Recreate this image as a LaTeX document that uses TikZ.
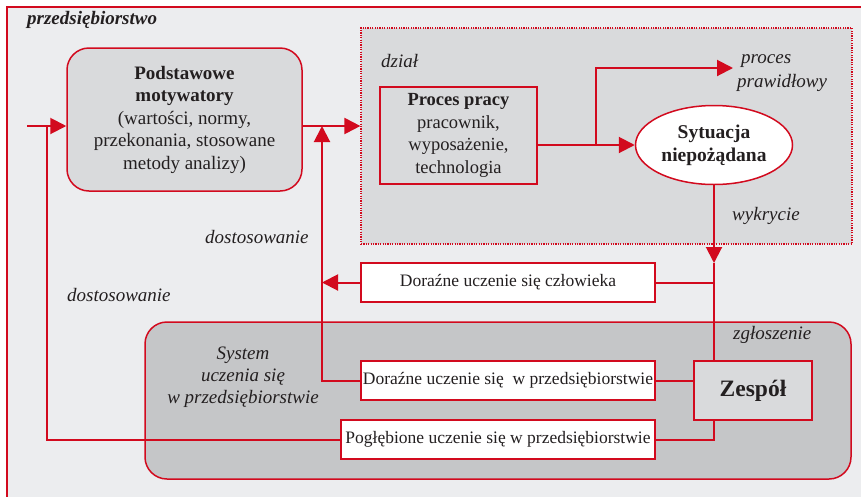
\documentclass[tikz,border=0pt]{standalone}
\usepackage{fontspec}
\setmainfont{Liberation Serif}
\usetikzlibrary{arrows.meta,shapes.geometric}
\definecolor{rd}{RGB}{210,10,30}
\definecolor{bgl}{RGB}{236,237,239}
\definecolor{gmid}{RGB}{217,218,220}
\definecolor{gdark}{RGB}{197,198,200}
\definecolor{txt}{RGB}{35,31,32}
\tikzset{
  boxline/.style={draw=rd, line width=1.5pt},
  conn/.style={draw=rd, line width=2pt},
  arr/.style={conn, -{Triangle[length=16pt,width=16pt]}},
  wbox/.style={boxline, fill=white, minimum width=294pt, minimum height=39pt, inner sep=0pt, text=txt, font=\fontsize{17.5}{22}\selectfont},
  lab/.style={text=txt, inner sep=0pt, font=\fontsize{19}{22}\selectfont\itshape},
}
\begin{document}
\begin{tikzpicture}[x=1pt,y=-1pt]
\useasboundingbox (0,0) rectangle (861,496);
\clip (0,0) rectangle (861,496);
\fill[white] (0,0) rectangle (861,496);
\draw[boxline, fill=bgl] (7,7) rectangle (880,520);
\node[lab, anchor=west, font=\fontsize{19}{22}\selectfont\bfseries\itshape] (firm) at (27,20) {przedsiębiorstwo};
% dzial region
\node[draw=rd, line width=1.2pt, dash pattern=on 1.2pt off 1.2pt, fill=gmid, minimum width=491pt, minimum height=216pt, inner sep=0pt] (dz) at (606.5,136) {};
\node[lab, anchor=west] (dzl) at (381,61) {dział};
% system region
\node[boxline, fill=gdark, rounded corners=22pt, minimum width=706pt, minimum height=157pt, inner sep=0pt] (sys) at (498,400.5) {};
\node[lab, align=center] (sysl) at (243,377) {System\\uczenia się\\w przedsiębiorstwie};
% main boxes
\node[boxline, fill=gmid, rounded corners=22pt, minimum width=235pt, minimum height=143pt, inner sep=0pt, align=center, text=txt, font=\fontsize{19}{22.5}\selectfont] (pod) at (184.5,119.5)
  {\textbf{Podstawowe}\\\textbf{motywatory}\\(wartości, normy,\\przekonania, stosowane\\metody analizy)};
\node[boxline, fill=gmid, minimum width=157pt, minimum height=97pt, inner sep=0pt, align=center, text=txt, font=\fontsize{18.5}{22.5}\selectfont] (proc) at (458.5,135.5)
  {\textbf{Proces pracy}\\pracownik,\\wyposażenie,\\technologia};
\node[boxline, ellipse, fill=white, minimum width=157pt, minimum height=79pt, inner sep=0pt, align=center, text=txt, font=\fontsize{19.5}{23}\selectfont\bfseries] (syt) at (714,145)
  {Sytuacja\\niepożądana};
\node[wbox] (dc) at (508,282.5) {Doraźne uczenie się człowieka};
\node[wbox] (dw) at (508,380.5) {Doraźne uczenie się \ w przedsiębiorstwie};
\node[wbox, minimum width=314pt] (pg) at (498,439.5) {Pogłębione uczenie się w przedsiębiorstwie};
\node[boxline, fill=gmid, minimum width=118pt, minimum height=59pt, inner sep=0pt, text=txt, font=\fontsize{23.5}{26}\selectfont\bfseries] (zes) at (753,390.5) {Zespół};
% labels
\node[lab, anchor=west] (lp1) at (741,61) {proces};
\node[lab, anchor=west] (lp2) at (737,83) {prawidłowy};
\node[lab, anchor=west] (lwy) at (732,216) {wykrycie};
\node[lab, anchor=west] (ld1) at (205,237) {dostosowanie};
\node[lab, anchor=west] (ld2) at (67,295) {dostosowanie};
\node[lab, anchor=west] (lzg) at (733,335) {zgłoszenie};
% coordinates
\coordinate (in) at (27,126);
\coordinate (j1) at (47,126);
\coordinate (j2) at (322,126);
\coordinate (j3) at (596,145);
\coordinate (pp) at (733,68);
\coordinate (j4) at (714,263);
% connectors
\draw[arr] (in) -- (in -| pod.west);
\draw[conn] (pg.west) -| (j1);
\draw[arr] (in -| pod.east) -- (in -| dz.west);
\draw[arr] (dw.west) -| (j2);
\draw[arr] (dc.west) -- (dc.west -| j2);
\draw[arr] (syt.west -| proc.east) -- (syt.west);
\draw[arr] (j3) |- (pp);
\draw[arr] (syt.south) -- (j4);
\draw[conn] (j4) -- (j4 |- zes.north);
\draw[conn] (dc.east) -- (dc.east -| j4);
\draw[conn] (dw.east) -- (dw.east -| zes.west);
\draw[conn] (pg.east) -| (j4 |- zes.south);
\end{tikzpicture}
\end{document}
